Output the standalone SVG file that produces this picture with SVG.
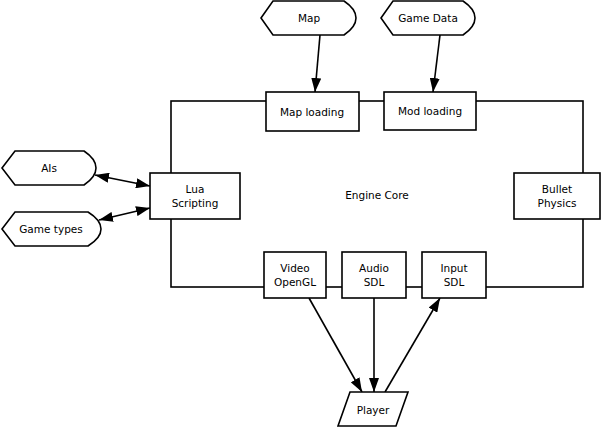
<svg xmlns="http://www.w3.org/2000/svg" width="601" height="427" viewBox="0 0 601 427">
<style>
.s{fill:#fff;stroke:#000;stroke-width:1.6}
.t{font-family:"DejaVu Sans",sans-serif;font-size:10.5px;fill:#000;text-anchor:middle}
.c{fill:none;stroke:#000;stroke-width:1.6}
</style>
<defs>
<marker id="ah" viewBox="0 0 14 10" refX="14" refY="5" markerWidth="14" markerHeight="10" markerUnits="userSpaceOnUse" orient="auto-start-reverse">
<path d="M0,0 L14,5 L0,10 z" fill="#000"/>
</marker>
</defs>
<g id="core">
<rect x="171" y="101" width="412" height="186" class="c"/>
<text x="377" y="199" class="t">Engine Core</text>
</g>
<g id="connectors">
<line x1="320" y1="35" x2="315" y2="92" class="c" marker-end="url(#ah)"/>
<line x1="440" y1="35" x2="433" y2="92" class="c" marker-end="url(#ah)"/>
<line x1="95" y1="175" x2="150" y2="186" class="c" marker-start="url(#ah)" marker-end="url(#ah)"/>
<line x1="99" y1="220" x2="150" y2="208" class="c" marker-start="url(#ah)" marker-end="url(#ah)"/>
<line x1="309" y1="298" x2="362" y2="392" class="c" marker-end="url(#ah)"/>
<line x1="374" y1="298" x2="374" y2="392" class="c" marker-end="url(#ah)"/>
<line x1="385" y1="392" x2="440" y2="298" class="c" marker-end="url(#ah)"/>
</g>
<g id="map">
<path d="M261,18 L273,1 L344,1 Q356,9 356,18 Q356,27 344,35 L273,35 Z" class="s"/>
<text x="309" y="22" class="t">Map</text>
</g>
<g id="gamedata">
<path d="M381,18 L393,1 L463,1 Q475,9 475,18 Q475,27 463,35 L393,35 Z" class="s"/>
<text x="428" y="22" class="t">Game Data</text>
</g>
<g id="maploading">
<rect x="266" y="92" width="93" height="39" class="s"/>
<text x="312" y="116" class="t">Map loading</text>
</g>
<g id="modloading">
<rect x="384" y="92" width="92" height="38" class="s"/>
<text x="430" y="115" class="t">Mod loading</text>
</g>
<g id="ais">
<path d="M2,168 L15,151 L84,151 Q96,159 96,168 Q96,177 84,185 L15,185 Z" class="s"/>
<text x="49" y="172" class="t">AIs</text>
</g>
<g id="gametypes">
<path d="M2,229 L15,212 L88,212 Q101,220 101,229 Q101,238 88,246 L15,246 Z" class="s"/>
<text x="51" y="233" class="t">Game types</text>
</g>
<g id="lua">
<rect x="150" y="173" width="90" height="46" class="s"/>
<text x="195" y="193" class="t">Lua</text>
<text x="195" y="207" class="t">Scripting</text>
</g>
<g id="bullet">
<rect x="514" y="173" width="86" height="46" class="s"/>
<text x="557" y="193" class="t">Bullet</text>
<text x="557" y="207" class="t">Physics</text>
</g>
<g id="video">
<rect x="264" y="252" width="62" height="46" class="s"/>
<text x="295" y="272" class="t">Video</text>
<text x="295" y="286" class="t">OpenGL</text>
</g>
<g id="audio">
<rect x="342" y="252" width="64" height="46" class="s"/>
<text x="374" y="272" class="t">Audio</text>
<text x="374" y="286" class="t">SDL</text>
</g>
<g id="input">
<rect x="422" y="252" width="64" height="46" class="s"/>
<text x="454" y="272" class="t">Input</text>
<text x="454" y="286" class="t">SDL</text>
</g>
<g id="player">
<path d="M350,392 L408,392 L396,426 L338,426 Z" class="s"/>
<text x="373" y="414" class="t">Player</text>
</g>
</svg>
